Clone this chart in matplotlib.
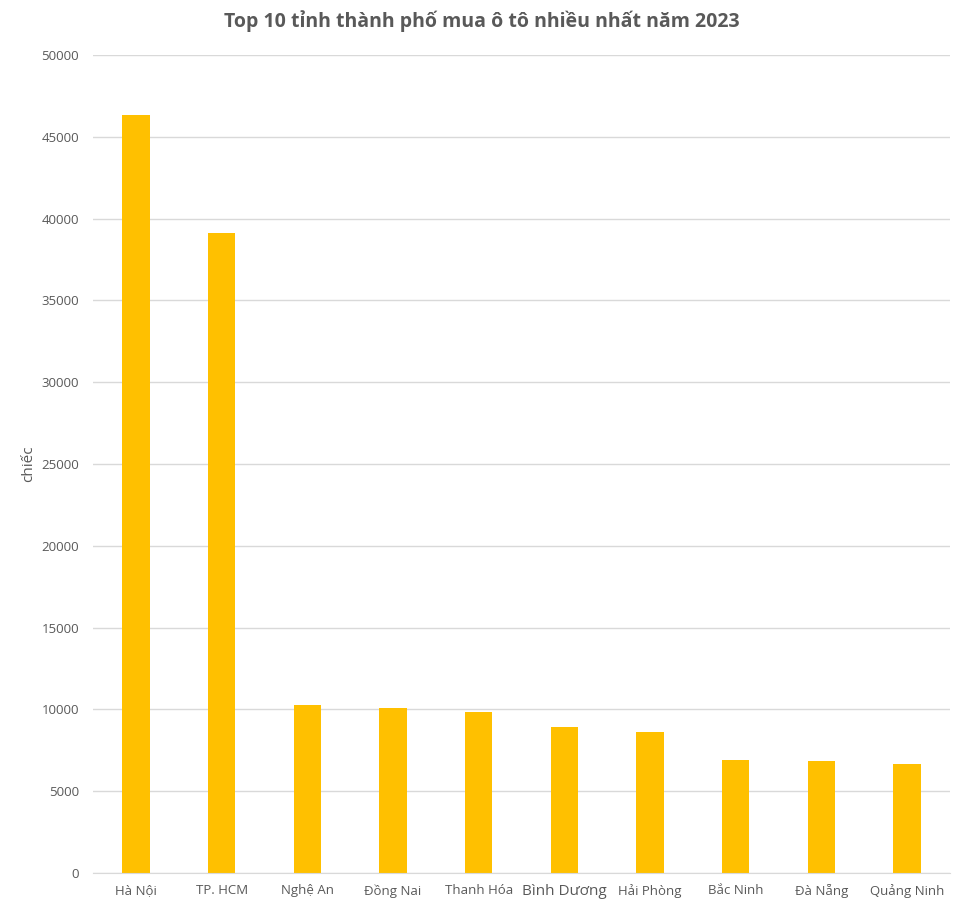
import numpy as np
import matplotlib.pyplot as plt

plt.rcParams['font.family'] = ['Open Sans', 'DejaVu Sans']

# Du lieu: so xe o to mua nam 2023 theo tinh thanh
tinh = ["Hà Nội", "TP. HCM", "Nghệ An", "Đồng Nai", "Thanh Hóa",
        "Bình Dương", "Hải Phòng", "Bắc Ninh", "Đà Nẵng", "Quảng Ninh"]
so_xe = [46330, 39120, 10260, 10080, 9840, 8920, 8620, 6910, 6850, 6660]
yticks = [0, 5000, 10000, 15000, 20000, 25000, 30000, 35000, 40000, 45000, 50000]

txt = "#595959"
fig = plt.figure(figsize=(9.63, 9.11), dpi=100)
ax = fig.add_axes([0.0966, 0.0417, 0.8899, 0.898])

x = np.arange(len(tinh))
ax.bar(x, so_xe, width=0.32, color="#FFC000", zorder=2)

ax.set_xlim(-0.5, len(tinh) - 0.5)
ax.set_ylim(0, 50000)
ax.set_yticks(yticks)
ax.set_yticklabels([str(v) for v in yticks], fontsize=9.5, color=txt)
ax.set_xticks(x)
ax.set_xticklabels(tinh, fontsize=9.5, color=txt)
# nhan "Binh Duong" to hon mot chut nhu ban goc
ax.get_xticklabels()[5].set_fontsize(11)
ax.tick_params(axis="both", length=0)
ax.tick_params(axis="y", pad=10)
ax.tick_params(axis="x", pad=8)

ax.grid(axis="y", color="#D9D9D9", linewidth=1, zorder=0)
for s in ["top", "right", "left"]:
    ax.spines[s].set_visible(False)
ax.spines["bottom"].set_color("#D9D9D9")

ax.set_ylabel("chiếc", fontsize=11, color=txt, labelpad=4)
fig.text(0.5, 0.977, "Top 10 tỉnh thành phố mua ô tô nhiều nhất năm 2023",
         ha="center", va="center", fontsize=14, fontweight="bold", color=txt)

fig.savefig("out.png", dpi=100)
